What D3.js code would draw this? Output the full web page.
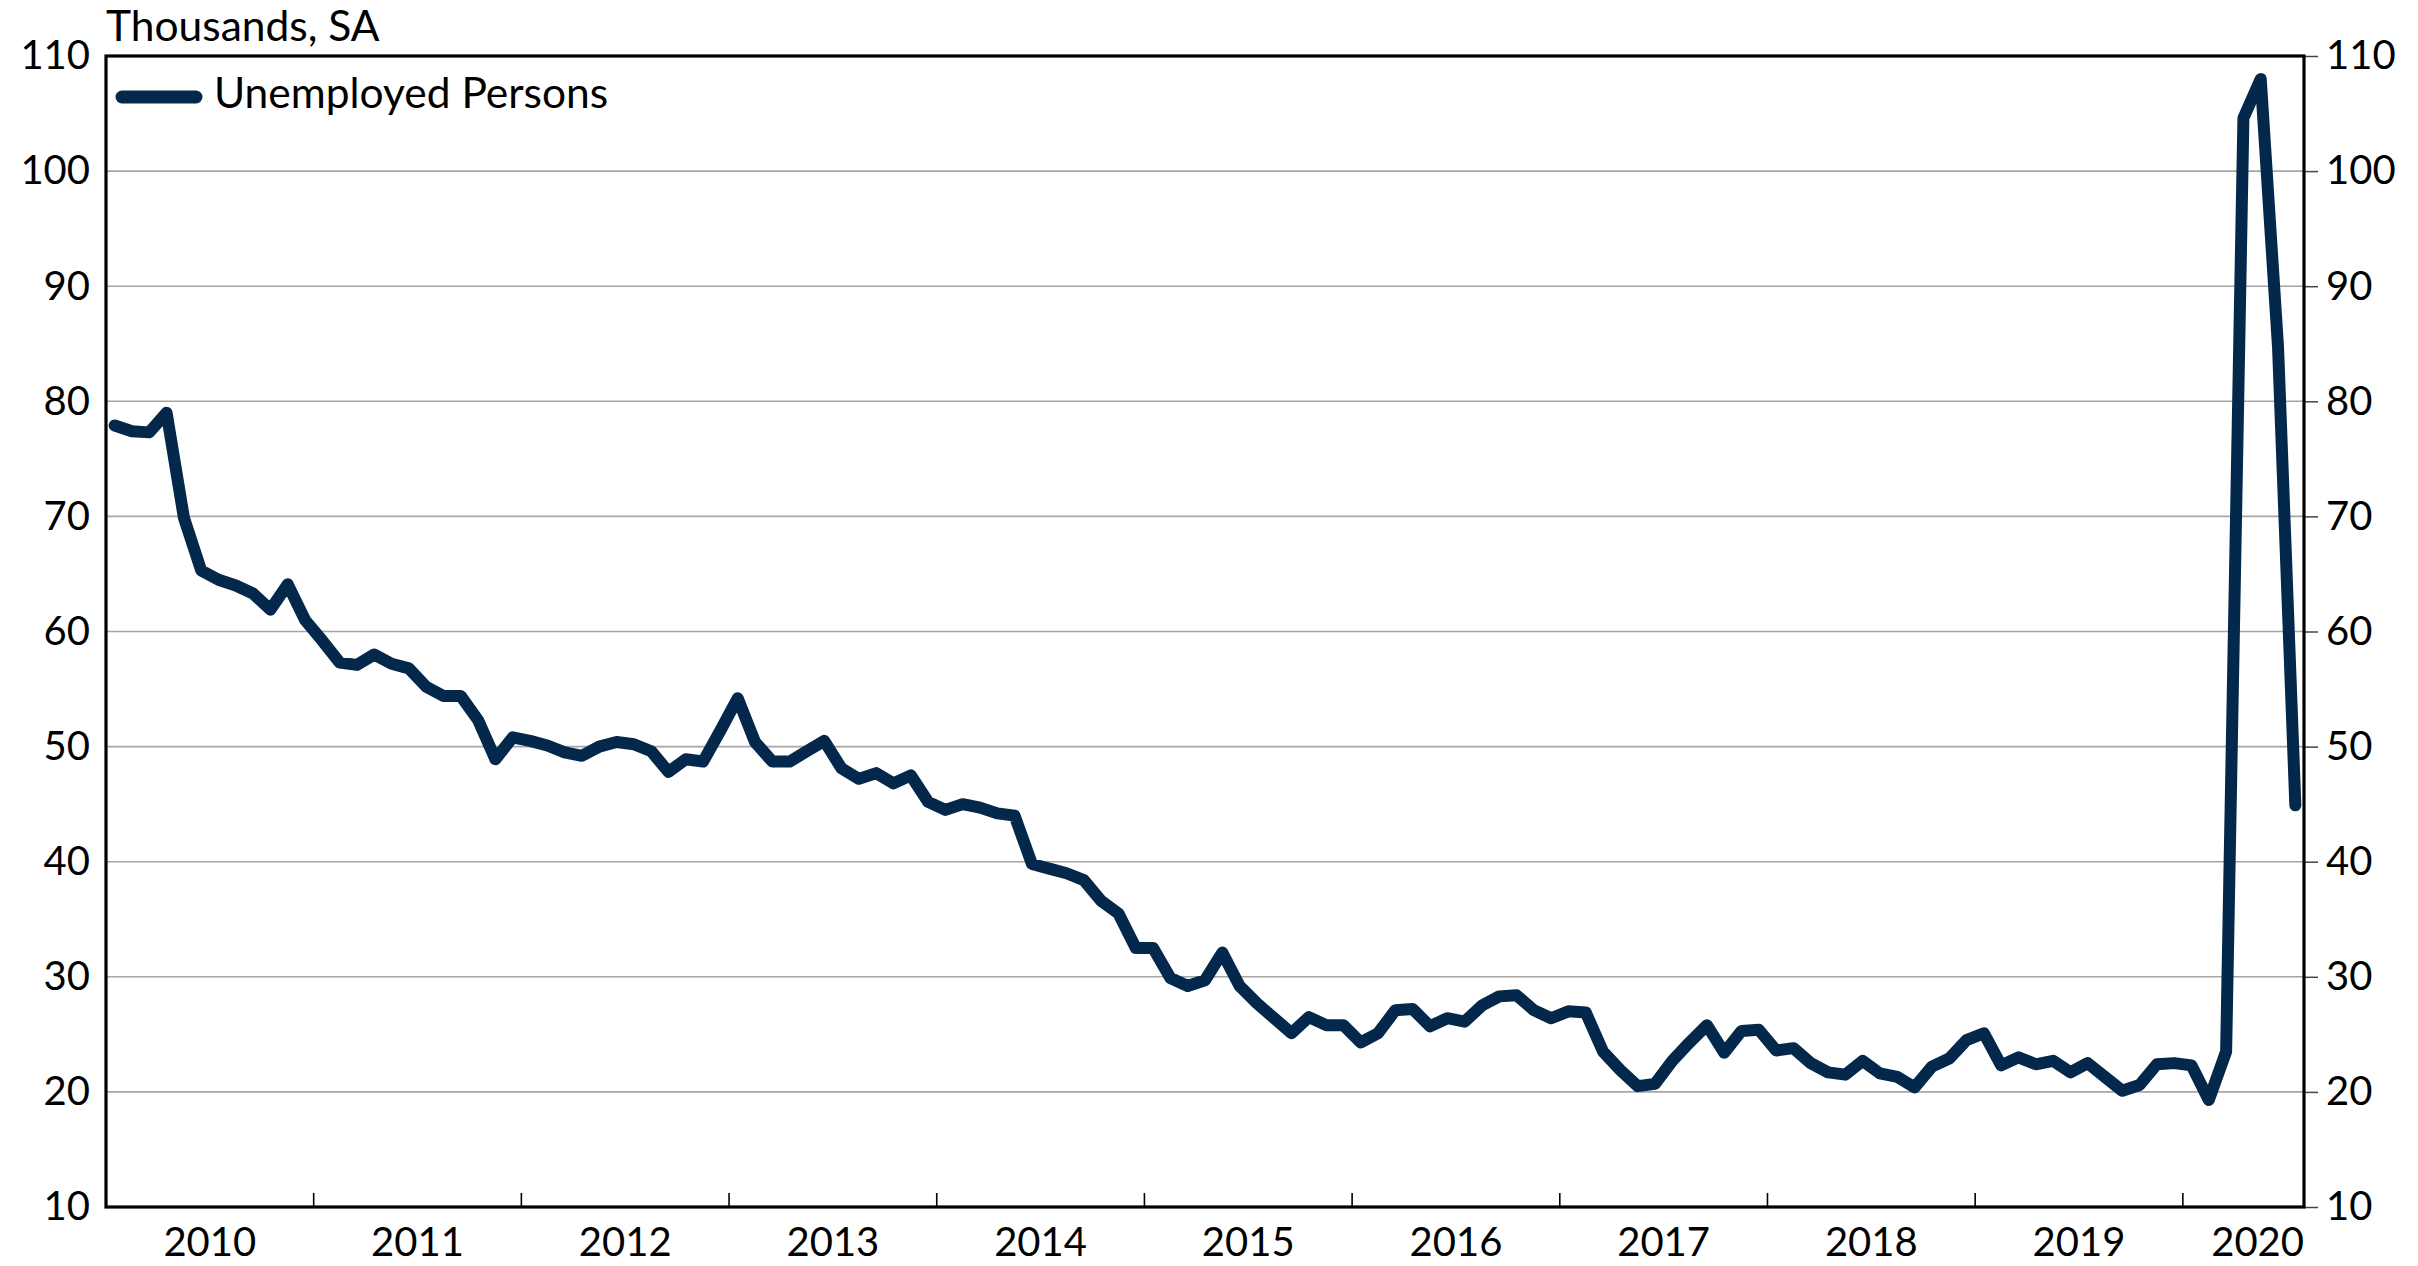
<!DOCTYPE html>
<html><head><meta charset="utf-8">
<script src="https://cdn.jsdelivr.net/npm/d3@7"></script>
<style>
body{margin:0;background:#fff}
svg{display:block}
text{font-family:Lato,"Open Sans",sans-serif;fill:#000}
</style>
</head><body>
<svg id="chart" width="2418" height="1266"></svg>
<script>
// ---- data ----
const startYear = 2010;            // first month = Jan 2010
const seriesName = "Unemployed Persons";
const unitLabel = "Thousands, SA";
const years = ["2010","2011","2012","2013","2014","2015","2016","2017","2018","2019","2020"];
const yTicks = [10,20,30,40,50,60,70,80,90,100,110];
// monthly values, Jan 2010 .. Jul 2020 (thousands)
const unemployed = [
  77.9,77.4,77.3,79.0,69.9,65.3,64.5,64.0,63.3,61.9,64.1,61.0,   // 2010
  59.2,57.3,57.1,58.0,57.2,56.8,55.2,54.4,54.4,52.3,48.9,50.8,   // 2011
  50.5,50.1,49.5,49.2,50.0,50.4,50.2,49.6,47.8,48.9,48.7,51.4,   // 2012
  54.2,50.4,48.7,48.7,49.6,50.5,48.1,47.2,47.7,46.8,47.5,45.2,   // 2013
  44.5,45.0,44.7,44.2,44.0,39.8,39.4,39.0,38.4,36.6,35.5,32.5,   // 2014
  32.5,29.9,29.2,29.7,32.1,29.2,27.7,26.4,25.1,26.5,25.8,25.8,   // 2015
  24.3,25.1,27.1,27.2,25.7,26.4,26.1,27.5,28.3,28.4,27.1,26.4,   // 2016
  27.0,26.9,23.5,21.9,20.5,20.7,22.7,24.3,25.8,23.4,25.3,25.4,   // 2017
  23.6,23.8,22.5,21.7,21.5,22.7,21.6,21.3,20.4,22.2,22.9,24.5,   // 2018
  25.1,22.3,23.0,22.4,22.7,21.7,22.5,21.3,20.1,20.6,22.4,22.5,   // 2019
  22.3,19.3,23.5,104.6,108.0,84.7,44.9                           // 2020
];

// ---- layout ----
const W = 2418, H = 1266;
const L = 106, R = 2304, T = 56, B = 1207;
const svg = d3.select("#chart");
const nMonths = unemployed.length;

const x = d3.scaleLinear().domain([0, nMonths]).range([L, R]);
const y = d3.scaleLinear().domain([10, 110]).range([B, T]);

// gridlines
svg.append("g").selectAll("line")
  .data(yTicks.filter(v => v > 10 && v < 110))
  .join("line")
  .attr("x1", L).attr("x2", R)
  .attr("y1", d => y(d)).attr("y2", d => y(d))
  .attr("stroke", "#a6a6a6").attr("stroke-width", 1.6);

// left axis labels
const leftAxis = d3.axisLeft(y).tickValues(yTicks).tickSize(0).tickPadding(16);
const gl = svg.append("g").attr("transform", `translate(${L},0)`).call(leftAxis);
gl.select(".domain").remove();
gl.selectAll("text").attr("font-size", 40).attr("font-family", "Lato").attr("fill", "#000");

// right axis with small outward ticks
const rightAxis = d3.axisRight(y).tickValues(yTicks).tickSize(14).tickPadding(8);
const gr = svg.append("g").attr("transform", `translate(${R},0)`).call(rightAxis);
gr.select(".domain").remove();
gr.selectAll("line").attr("stroke", "#444").attr("stroke-width", 1.5);
gr.selectAll("text").attr("font-size", 40).attr("font-family", "Lato").attr("fill", "#000");

// x year ticks (inside, at year boundaries)
const yearBounds = d3.range(12, nMonths, 12);
svg.append("g").selectAll("line").data(yearBounds).join("line")
  .attr("x1", d => x(d)).attr("x2", d => x(d))
  .attr("y1", B).attr("y2", B - 14)
  .attr("stroke", "#000").attr("stroke-width", 1.6);

// x labels (centred mid-year, clamped to the plot edge)
const xl = svg.append("g").selectAll("text").data(years).join("text")
  .attr("font-size", 40)
  .attr("y", 1256)
  .attr("text-anchor", "middle")
  .text(d => d);
xl.each(function(d, i) {
  const w = this.getComputedTextLength();
  let cx = x(i * 12 + 6);
  if (cx + w / 2 > R) cx = R - w / 2;
  d3.select(this).attr("x", cx);
});

// frame
svg.append("rect").attr("x", L).attr("y", T).attr("width", R - L).attr("height", B - T)
  .attr("fill", "none").attr("stroke", "#000").attr("stroke-width", 3.2);

// series line
const line = d3.line().x((d, i) => x(i + 0.5)).y(d => y(d));
svg.append("path").datum(unemployed)
  .attr("d", line)
  .attr("fill", "none")
  .attr("stroke", "#03284c")
  .attr("stroke-width", 12)
  .attr("stroke-linejoin", "round")
  .attr("stroke-linecap", "round");

// unit label
svg.append("text").attr("x", L).attr("y", 41).attr("font-size", 42.5).text(unitLabel);

// legend
svg.append("line").attr("x1", 122).attr("x2", 196).attr("y1", 97).attr("y2", 97)
  .attr("stroke", "#03284c").attr("stroke-width", 13).attr("stroke-linecap", "round");
svg.append("text").attr("x", 214).attr("y", 108).attr("font-size", 42.5).text(seriesName);
</script>
</body></html>
